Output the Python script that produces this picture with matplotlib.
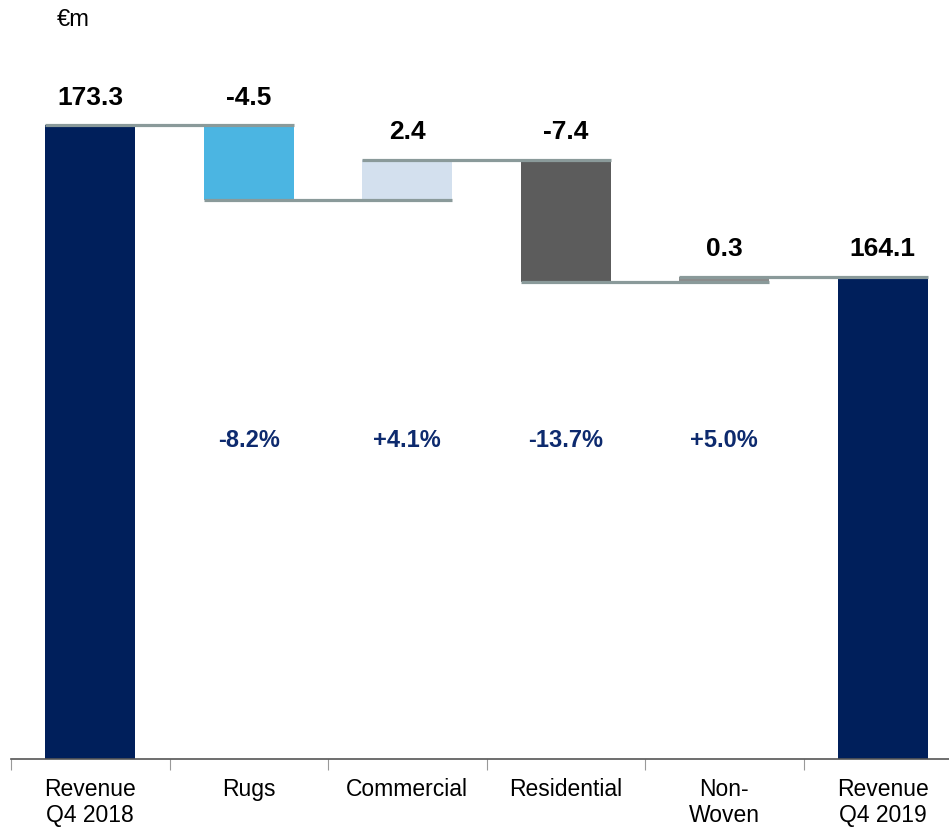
import numpy as np
import matplotlib.pyplot as plt

plt.rcParams['font.family'] = ['Liberation Sans', 'DejaVu Sans']

# waterfall data (EUR m)
categories = ['Revenue\nQ4 2018', 'Rugs', 'Commercial', 'Residential', 'Non-\nWoven', 'Revenue\nQ4 2019']
start_value = 173.3
changes = [-4.5, 2.4, -7.4, 0.3]
end_value = 164.1
value_labels = ['173.3', '-4.5', '2.4', '-7.4', '0.3', '164.1']
pct_labels = ['-8.2%', '+4.1%', '-13.7%', '+5.0%']

colors = ['#001F5B', '#4BB5E2', '#D3E0EE', '#5C5C5C', '#8C8C8C', '#001F5B']
line_col = '#8A9A9A'
pct_col = '#0D2A6E'

ymin = 134.9
ymax = ymin + 759 / 16.5

fig = plt.figure(figsize=(9.49, 8.30), dpi=100)
ax = fig.add_axes([11 / 949, 71 / 830, 951 / 949, 759 / 830])
ax.set_xlim(-0.5, 5.5)
ax.set_ylim(ymin, ymax)

# bar extents
bottoms, tops, levels = [], [], []
level = start_value
bottoms.append(ymin)
tops.append(start_value)
levels.append(start_value)
for c in changes:
    new = level + c
    bottoms.append(min(level, new))
    tops.append(max(level, new))
    level = new
    levels.append(new)
bottoms.append(ymin)
tops.append(end_value)

x = np.arange(len(categories))
w = 0.57
ax.bar(x, np.array(tops) - np.array(bottoms), bottom=bottoms, width=w,
       color=colors, zorder=2)

# connector lines from each bar to the next
for i in range(len(levels)):
    ax.plot([x[i] - w / 2, x[i + 1] + w / 2], [levels[i], levels[i]],
            color=line_col, lw=2.3, zorder=3, solid_capstyle='butt')

# value labels
for i, lab in enumerate(value_labels):
    ax.annotate(lab, (x[i], tops[i]), xytext=(0, 20), textcoords='offset points',
                ha='center', va='center', fontsize=19, fontweight='bold', color='black')

# percentage changes
for i, lab in enumerate(pct_labels):
    ax.text(x[i + 1], 0.42, lab, transform=ax.get_xaxis_transform(),
            ha='center', va='center', fontsize=17, fontweight='bold', color=pct_col)

fig.text(57 / 949, 1 - 20 / 830, '€m', ha='left', va='center', fontsize=17)

for s in ['top', 'right', 'left']:
    ax.spines[s].set_visible(False)
ax.spines['bottom'].set_color('#555555')
ax.spines['bottom'].set_linewidth(1.2)
ax.set_yticks([])
ax.set_xticks(x)
ax.set_xticklabels(categories, fontsize=16.5, linespacing=1.15)
ax.tick_params(axis='x', which='major', length=0, pad=14)
ax.set_xticks(np.arange(-0.5, 5.6, 1), minor=True)
ax.tick_params(axis='x', which='minor', length=8, width=0.8, color='#999999', direction='out')

fig.savefig('out.png', dpi=100)
